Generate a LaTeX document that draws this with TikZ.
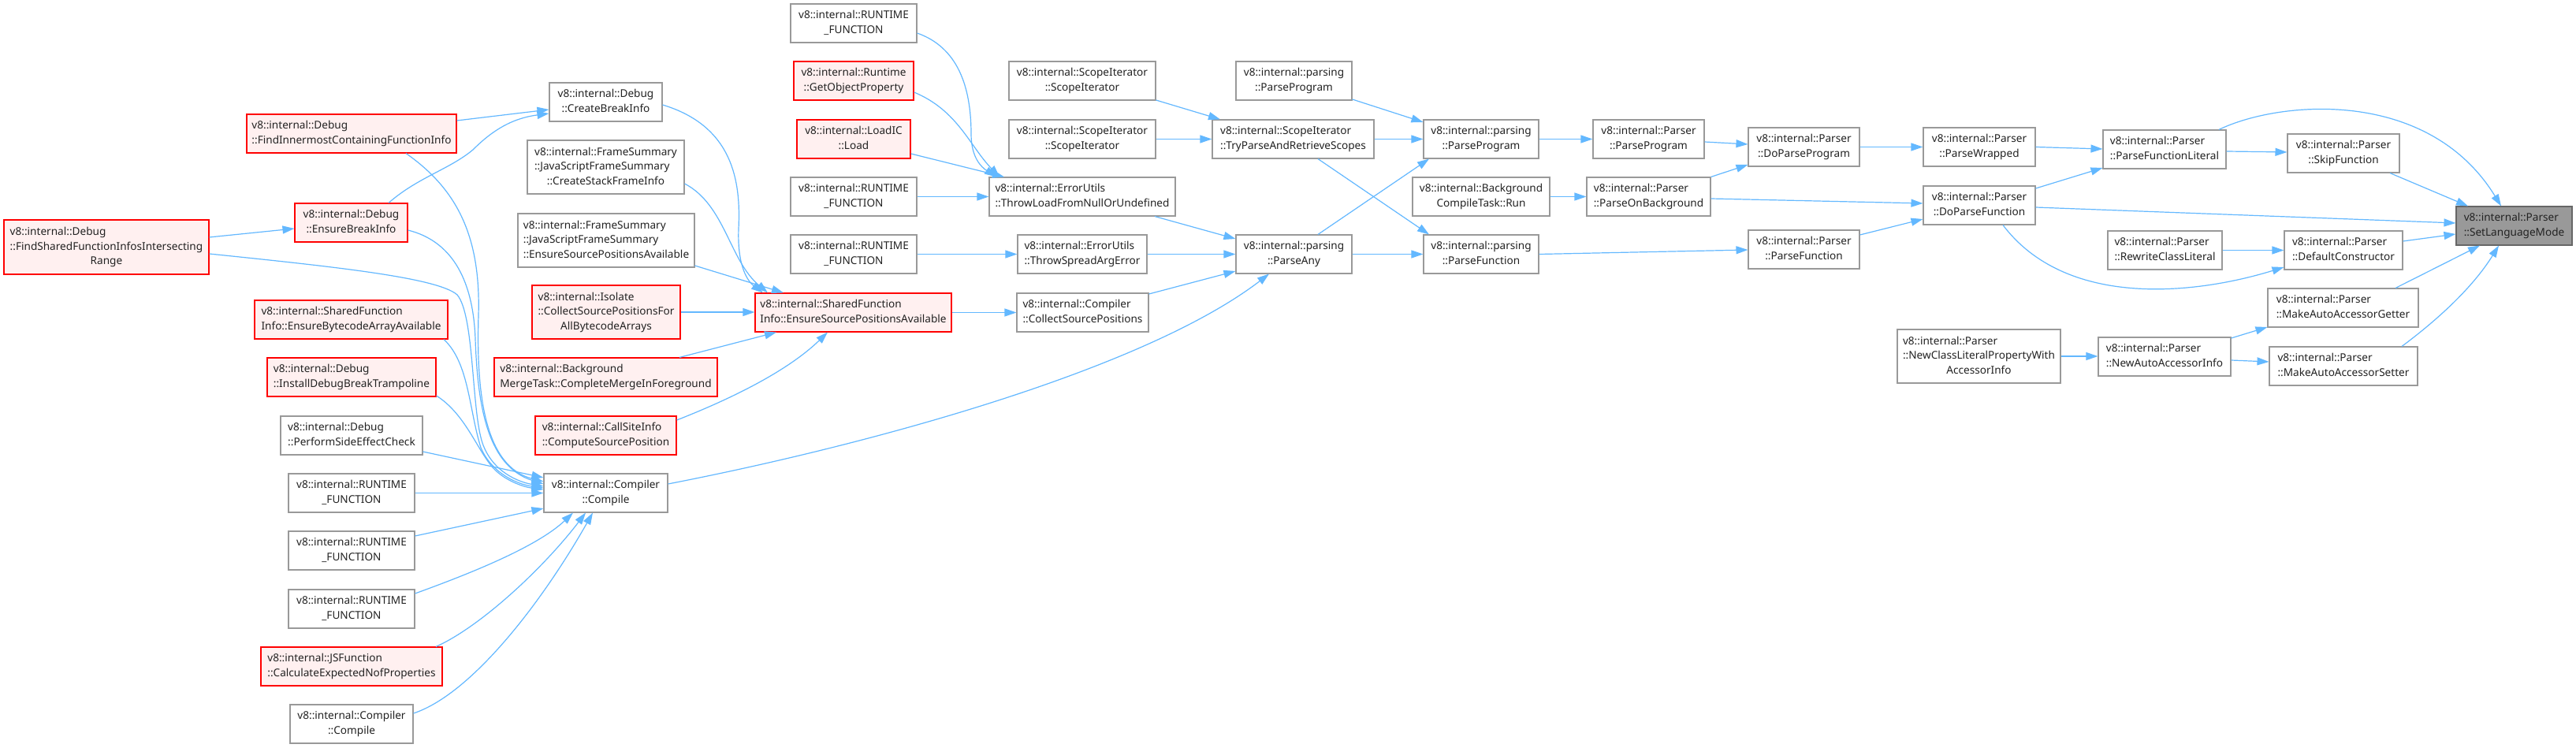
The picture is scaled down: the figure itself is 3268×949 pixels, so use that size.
\documentclass[tikz,border=0pt]{standalone}
\usepackage{fontspec}
\setmainfont{Noto Sans}
\usetikzlibrary{arrows.meta,calc}
\definecolor{boxgray}{HTML}{999999}
\definecolor{boxred}{HTML}{FF0000}
\definecolor{redfill}{HTML}{FFF0F0}
\definecolor{rootfill}{HTML}{999999}
\definecolor{rootborder}{HTML}{666666}
\definecolor{edgeblue}{HTML}{63B8FF}
\definecolor{txtcol}{HTML}{222222}
\newcommand{\nodefont}{\fontsize{13.6}{18.7}\selectfont}
\newcommand{\twol}[2]{\begin{tabular}{@{}l@{}}#1\\\multicolumn{1}{@{}c@{}}{#2}\end{tabular}}
\newcommand{\threel}[3]{\begin{tabular}{@{}l@{}}#1\\#2\\\multicolumn{1}{@{}c@{}}{#3}\end{tabular}}
\newcommand{\nd}[7]{\node[#1,minimum width={(#4-#2)*1pt},minimum height={(#5-#3)*1pt}] (#6) at ({(#2+#4)/2},{(#3+#5)/2}) {#7};}
\tikzset{
  nbox/.style={draw=boxgray, fill=white, line width=1.1pt, inner sep=0pt, font=\nodefont, text=txtcol},
  rbox/.style={nbox, draw=boxred, fill=redfill},
  rootbox/.style={nbox, draw=rootborder, fill=rootfill},
  edge/.style={draw=edgeblue, line width=1.2pt, -{Triangle[length=15pt,width=10pt]}},
}
\begin{document}
\begin{tikzpicture}[x=1pt,y=-1pt]
\useasboundingbox[fill=white] (0,0) rectangle (3268,949);
% column 0/1
\nd{rbox}{5}{279}{265}{348}{fsfi}{\threel{v8::internal::Debug}{::FindSharedFunctionInfosIntersecting}{Range}}
\nd{rbox}{313}{145}{579}{194}{fic}{\twol{v8::internal::Debug}{::FindInnermostContainingFunctionInfo}}
\nd{rbox}{374}{258}{517}{307}{ebi}{\twol{v8::internal::Debug}{::EnsureBreakInfo}}
\nd{rbox}{323}{381}{568}{430}{ebaa}{\twol{v8::internal::SharedFunction}{Info::EnsureBytecodeArrayAvailable}}
\nd{rbox}{339}{454}{553}{503}{idbt}{\twol{v8::internal::Debug}{::InstallDebugBreakTrampoline}}
\nd{nbox}{356}{528}{536}{577}{psec}{\twol{v8::internal::Debug}{::PerformSideEffectCheck}}
\nd{nbox}{366}{601}{526}{650}{rf1}{\twol{v8::internal::RUNTIME}{\_FUNCTION}}
\nd{nbox}{366}{674}{526}{723}{rf2}{\twol{v8::internal::RUNTIME}{\_FUNCTION}}
\nd{nbox}{366}{748}{526}{797}{rf3}{\twol{v8::internal::RUNTIME}{\_FUNCTION}}
\nd{rbox}{331}{821}{561}{870}{cenp}{\twol{v8::internal::JSFunction}{::CalculateExpectedNofProperties}}
\nd{nbox}{368}{894}{524}{943}{ccl}{\twol{v8::internal::Compiler}{::Compile}}
% column 2
\nd{nbox}{697}{105}{840}{154}{cbi}{\twol{v8::internal::Debug}{::CreateBreakInfo}}
\nd{nbox}{669}{178}{868}{246}{cfs}{\threel{v8::internal::FrameSummary}{::JavaScriptFrameSummary}{::CreateStackFrameInfo}}
\nd{nbox}{657}{271}{881}{339}{jfs}{\threel{v8::internal::FrameSummary}{::JavaScriptFrameSummary}{::EnsureSourcePositionsAvailable}}
\nd{rbox}{675}{362}{863}{430}{csp}{\threel{v8::internal::Isolate}{::CollectSourcePositionsFor}{AllBytecodeArrays}}
\nd{rbox}{627}{454}{910}{503}{cmf}{\twol{v8::internal::Background}{MergeTask::CompleteMergeInForeground}}
\nd{rbox}{679}{528}{858}{577}{csi}{\twol{v8::internal::CallSiteInfo}{::ComputeSourcePosition}}
\nd{nbox}{690}{601}{847}{650}{cc}{\twol{v8::internal::Compiler}{::Compile}}
% column 3
\nd{nbox}{1003}{5}{1163}{54}{rft}{\twol{v8::internal::RUNTIME}{\_FUNCTION}}
\nd{rbox}{1007}{78}{1159}{127}{gop}{\twol{v8::internal::Runtime}{::GetObjectProperty}}
\nd{rbox}{1011}{152}{1155}{201}{lic}{\twol{v8::internal::LoadIC}{::Load}}
\nd{nbox}{1003}{225}{1163}{274}{rf4}{\twol{v8::internal::RUNTIME}{\_FUNCTION}}
\nd{nbox}{1003}{298}{1163}{347}{rf5}{\twol{v8::internal::RUNTIME}{\_FUNCTION}}
\nd{rbox}{958}{372}{1207}{421}{espa}{\twol{v8::internal::SharedFunction}{Info::EnsureSourcePositionsAvailable}}
% column 4
\nd{nbox}{1280}{78}{1466}{127}{si1}{\twol{v8::internal::ScopeIterator}{::ScopeIterator}}
\nd{nbox}{1280}{152}{1466}{201}{si2}{\twol{v8::internal::ScopeIterator}{::ScopeIterator}}
\nd{nbox}{1255}{225}{1491}{274}{tlu}{\twol{v8::internal::ErrorUtils}{::ThrowLoadFromNullOrUndefined}}
\nd{nbox}{1291}{298}{1455}{347}{tsae}{\twol{v8::internal::ErrorUtils}{::ThrowSpreadArgError}}
\nd{nbox}{1290}{372}{1457}{421}{ccsp}{\twol{v8::internal::Compiler}{::CollectSourcePositions}}
% column 5
\nd{nbox}{1568}{78}{1715}{127}{ppl}{\twol{v8::internal::parsing}{::ParseProgram}}
\nd{nbox}{1538}{152}{1743}{201}{tpr}{\twol{v8::internal::ScopeIterator}{::TryParseAndRetrieveScopes}}
\nd{nbox}{1568}{298}{1715}{347}{pany}{\twol{v8::internal::parsing}{::ParseAny}}
% column 6
\nd{nbox}{1806}{152}{1952}{201}{pp}{\twol{v8::internal::parsing}{::ParseProgram}}
\nd{nbox}{1792}{225}{1966}{274}{bct}{\twol{v8::internal::Background}{CompileTask::Run}}
\nd{nbox}{1806}{298}{1952}{347}{pf}{\twol{v8::internal::parsing}{::ParseFunction}}
% column 7
\nd{nbox}{2021}{152}{2162}{201}{prpp}{\twol{v8::internal::Parser}{::ParseProgram}}
\nd{nbox}{2013}{225}{2170}{274}{pob}{\twol{v8::internal::Parser}{::ParseOnBackground}}
% column 8
\nd{nbox}{2218}{162}{2359}{211}{dpp}{\twol{v8::internal::Parser}{::DoParseProgram}}
\nd{nbox}{2218}{292}{2359}{341}{prpf}{\twol{v8::internal::Parser}{::ParseFunction}}
\nd{nbox}{2407}{418}{2614}{486}{nclp}{\threel{v8::internal::Parser}{::NewClassLiteralPropertyWith}{AccessorInfo}}
% column 9
\nd{nbox}{2440}{162}{2582}{211}{pw}{\twol{v8::internal::Parser}{::ParseWrapped}}
\nd{nbox}{2440}{236}{2582}{285}{dpf}{\twol{v8::internal::Parser}{::DoParseFunction}}
% column 10
\nd{nbox}{2668}{165}{2824}{214}{pfl}{\twol{v8::internal::Parser}{::ParseFunctionLiteral}}
\nd{nbox}{2674}{293}{2819}{342}{rcl}{\twol{v8::internal::Parser}{::RewriteClassLiteral}}
\nd{nbox}{2662}{428}{2830}{477}{naai}{\twol{v8::internal::Parser}{::NewAutoAccessorInfo}}
% column 11
\nd{nbox}{2902}{170}{3044}{219}{skf}{\twol{v8::internal::Parser}{::SkipFunction}}
\nd{nbox}{2898}{293}{3048}{342}{dc}{\twol{v8::internal::Parser}{::DefaultConstructor}}
\nd{nbox}{2877}{366}{3068}{415}{maag}{\twol{v8::internal::Parser}{::MakeAutoAccessorGetter}}
\nd{nbox}{2879}{440}{3067}{489}{maas}{\twol{v8::internal::Parser}{::MakeAutoAccessorSetter}}
% root
\nd{rootbox}{3116}{262}{3263}{311}{slm}{\twol{v8::internal::Parser}{::SetLanguageMode}}

% ---- edges: left cluster
\draw[edge] (fsfi.east |- 0,301) -- (ebi.west |- 0,290);
\draw[edge] (fic.east |- 0,153) -- (cbi.west |- 0,139);
\draw[edge] (493,0 |- ebi.north) .. controls (530,225) and (570,215) .. (600,190) .. controls (625,165) and (650,150) .. (cbi.west |- 0,144);
\draw[edge] (fsfi.east |- 0,322) .. controls (420,338) and (555,352) .. (580,374) .. controls (602,400) and (598,520) .. (612,562) .. controls (625,600) and (660,612) .. (cc.west |- 0,617);
\draw[edge] (515,0 |- fic.south) .. controls (580,240) and (610,300) .. (607,400) .. controls (604,500) and (615,592) .. (cc.west |- 0,611);
\draw[edge] (ebi.east |- 0,292) .. controls (570,305) and (600,350) .. (603,430) .. controls (606,520) and (620,592) .. (cc.west |- 0,614);
\draw[edge] (563,0 |- ebaa.south) .. controls (595,460) and (595,520) .. (610,568) .. controls (625,603) and (660,615) .. (cc.west |- 0,619);
\draw[edge] (idbt.east |- 0,502) .. controls (590,525) and (605,570) .. (625,593) .. controls (640,610) and (665,618) .. (cc.west |- 0,621);
\draw[edge] (psec.east |- 0,573) -- (cc.west |- 0,606);
\draw[edge] (rf1.east) -- (cc.west |- rf1.east);
\draw[edge] (rf2.east |- 0,680) -- (cc.west |- 0,645);
\draw[edge] (rf3.east |- 0,753) .. controls (590,730) and (680,695) .. (727,0 |- cc.south);
\draw[edge] (553,0 |- cenp.north) .. controls (610,795) and (690,720) .. (743,0 |- cc.south);
\draw[edge] (ccl.east |- 0,905) .. controls (600,880) and (690,760) .. (752,0 |- cc.south);
% ---- into EnsureSourcePositionsAvailable
\draw[edge] (cbi.east |- 0,133) .. controls (930,160) and (940,230) .. (937,290) .. controls (935,340) and (950,358) .. (968,0 |- espa.north);
\draw[edge] (cfs.east |- 0,233) .. controls (920,260) and (925,330) .. (974,0 |- espa.north);
\draw[edge] (jfs.east |- 0,337) -- (994,0 |- espa.north);
\draw[edge] (csp.east) -- (espa.west |- csp.east);
\draw[edge] (862,0 |- cmf.north) -- (985,0 |- espa.south);
\draw[edge] (csi.east |- 0,533) .. controls (930,505) and (1000,470) .. (1050,0 |- espa.south);
\draw[edge] (espa.east) -- (ccsp.west |- espa.east);
% ---- into ThrowLoadFromNullOrUndefined
\draw[edge] (rft.east |- 0,42) .. controls (1215,60) and (1232,110) .. (1232,170) .. controls (1232,200) and (1245,212) .. (1264,0 |- tlu.north);
\draw[edge] (gop.east |- 0,117) .. controls (1215,140) and (1230,185) .. (1268,0 |- tlu.north);
\draw[edge] (lic.east |- 0,195) -- (1274,0 |- tlu.north);
\draw[edge] (rf4.east) -- (tlu.west |- rf4.east);
\draw[edge] (1465,0 |- tlu.south) -- (pany.west |- 0,303);
\draw[edge] (rf5.east) -- (tsae.west);
\draw[edge] (tsae.east) -- (pany.west);
\draw[edge] (ccsp.east |- 0,373) -- (pany.west |- 0,344);
\draw[edge] (cc.east |- 0,614) .. controls (1100,565) and (1450,470) .. (1610,0 |- pany.south);
% ---- parsing
\draw[edge] (si1.east |- 0,127) -- (1548,0 |- tpr.north);
\draw[edge] (si2.east) -- (tpr.west);
\draw[edge] (ppl.east |- 0,126) -- (pp.west |- 0,155);
\draw[edge] (tpr.east) -- (pp.west);
\draw[edge] (1672,0 |- tpr.south) -- (1813,0 |- pf.north);
\draw[edge] (1672,0 |- pany.north) -- (1813,0 |- pp.south);
\draw[edge] (pany.east) -- (pf.west);
\draw[edge] (pp.east) -- (prpp.west);
\draw[edge] (prpp.east |- 0,180) -- (dpp.west |- 0,183);
\draw[edge] (bct.east) -- (pob.west);
\draw[edge] (pob.north east) -- (dpp.west |- 0,209);
\draw[edge] (pob.east |- 0,252) -- (dpf.west |- 0,258);
\draw[edge] (pf.east) -- (prpf.west |- 0,317);
\draw[edge] (prpf.east |- 0,298) -- (dpf.west |- 0,278);
\draw[edge] (dpp.east) -- (pw.west);
% ---- parser
\draw[edge] (pw.east) -- (pfl.west |- 0,189);
\draw[edge] (dpf.east |- 0,239) -- (pfl.west |- 0,213);
\draw[edge] (dpf.east |- 0,263) -- (slm.west |- 0,283);
\draw[edge] (2541,0 |- dpf.south) .. controls (2620,390) and (2780,375) .. (dc.west |- 0,339);
\draw[edge] (pfl.east |- 0,192) -- (skf.west |- 0,193);
\draw[edge] (2815,0 |- pfl.north) .. controls (2890,128) and (3080,110) .. (3173,0 |- slm.north);
\draw[edge] (3032,0 |- skf.south) -- (3131,0 |- slm.north);
\draw[edge] (rcl.east) -- (dc.west);
\draw[edge] (dc.east |- 0,306) -- (slm.west |- 0,297);
\draw[edge] (3039,0 |- maag.north) -- (3146,0 |- slm.south);
\draw[edge] (3047,0 |- maas.north) .. controls (3100,400) and (3140,360) .. (3170,0 |- slm.south);
\draw[edge] (nclp.east) -- (naai.west |- nclp.east);
\draw[edge] (naai.east |- 0,429) -- (maag.west |- 0,415);
\draw[edge] (naai.east |- 0,457) -- (maas.west |- 0,459);
\end{tikzpicture}
\end{document}
